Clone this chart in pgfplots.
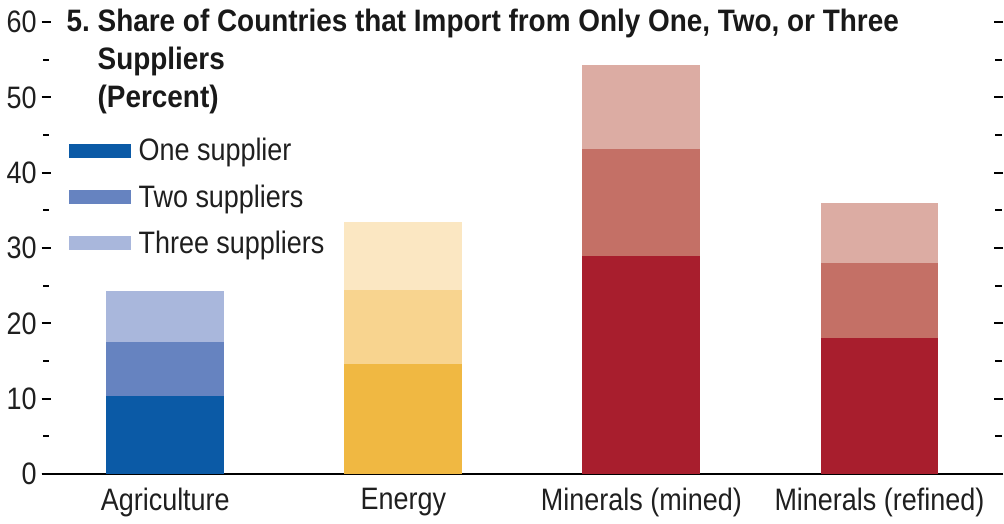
\documentclass[border=0pt]{standalone}
\usepackage{pgfplots}
\pgfplotsset{compat=1.18}
\usepackage{fontspec}
\setmainfont{Liberation Sans}[FakeStretch=0.87, BoldFeatures={FakeStretch=0.9}]
\definecolor{b1}{HTML}{0B5AA6}
\definecolor{b2}{HTML}{6683C0}
\definecolor{b3}{HTML}{A9B7DC}
\definecolor{e1}{HTML}{F0B842}
\definecolor{e2}{HTML}{F8D48F}
\definecolor{e3}{HTML}{FBE7C2}
\definecolor{m1}{HTML}{A81E2D}
\definecolor{m2}{HTML}{C47066}
\definecolor{m3}{HTML}{DCACA3}
\begin{document}
\begin{tikzpicture}
\begin{axis}[
  scale only axis,
  width=476pt, height=226pt,
  xmin=-0.5, xmax=3.5, ymin=0, ymax=60,
  ybar, bar width=0.495, bar shift=0pt,
  axis line style={draw=none},
  xtick={0,1,2,3},
  xticklabels={Agriculture,Energy,Minerals (mined),Minerals (refined)},
  x tick style={draw=none},
  ytick={0,10,...,60},
  minor ytick={5,15,...,55},
  ytick pos=both,
  yticklabel pos=left,
  tick align=center,
  major tick length=4.5pt,
  minor tick length=3pt,
  y tick style={black, line width=1pt},
  tick label style={font=\fontsize{15.5}{18}\selectfont, text=black!88},
  xticklabel style={yshift=-1pt},
  yticklabel style={xshift=1pt},
  /pgf/number format/assume math mode=true,
  extra y ticks={0},
  extra y tick labels={},
  extra y tick style={grid=major, major grid style={black, line width=1pt}},
  legend style={draw=none, fill=none, at={(rel axis cs:0.023,0.752)}, anchor=north west,
    font=\fontsize{15.5}{18}\selectfont, inner sep=0pt, row sep=6.3pt, column sep=2pt,
    nodes={inner sep=2pt, text=black!88}},
  legend cell align=left,
  legend image code/.code={\fill (0pt,-3.5pt) rectangle (31pt,3.5pt);},
  clip=false,
]
% Agriculture (cumulative: one, one+two, one+two+three)
\addplot[fill=b3, draw=none, forget plot] coordinates {(0,24.3)};
\addplot[fill=b2, draw=none, forget plot] coordinates {(0,17.5)};
\addplot[fill=b1, draw=none, forget plot] coordinates {(0,10.4)};
% Energy
\addplot[fill=e3, draw=none, forget plot] coordinates {(1,33.5)};
\addplot[fill=e2, draw=none, forget plot] coordinates {(1,24.4)};
\addplot[fill=e1, draw=none, forget plot] coordinates {(1,14.6)};
% Minerals (mined)
\addplot[fill=m3, draw=none, forget plot] coordinates {(2,54.3)};
\addplot[fill=m2, draw=none, forget plot] coordinates {(2,43.2)};
\addplot[fill=m1, draw=none, forget plot] coordinates {(2,28.9)};
% Minerals (refined)
\addplot[fill=m3, draw=none, forget plot] coordinates {(3,36.0)};
\addplot[fill=m2, draw=none, forget plot] coordinates {(3,28.0)};
\addplot[fill=m1, draw=none, forget plot] coordinates {(3,18.0)};
% legend entries
\addlegendimage{fill=b1, draw=none}
\addlegendentry{One supplier}
\addlegendimage{fill=b2, draw=none}
\addlegendentry{Two suppliers}
\addlegendimage{fill=b3, draw=none}
\addlegendentry{Three suppliers}
\node[anchor=north west, align=left, inner sep=0pt, text=black!90,
  font=\fontsize{15.5}{19}\selectfont\bfseries]
  at ([xshift=10pt, yshift=6.5pt]rel axis cs:0,1)
  {5.\ Share of Countries that Import from Only One, Two, or Three\\
   \phantom{5.\ }Suppliers\\
   \phantom{5.\ }(Percent)};
\path ([yshift=11pt]rel axis cs:0,1) -- ([yshift=11pt]rel axis cs:1,1);
\end{axis}
\end{tikzpicture}
\end{document}
